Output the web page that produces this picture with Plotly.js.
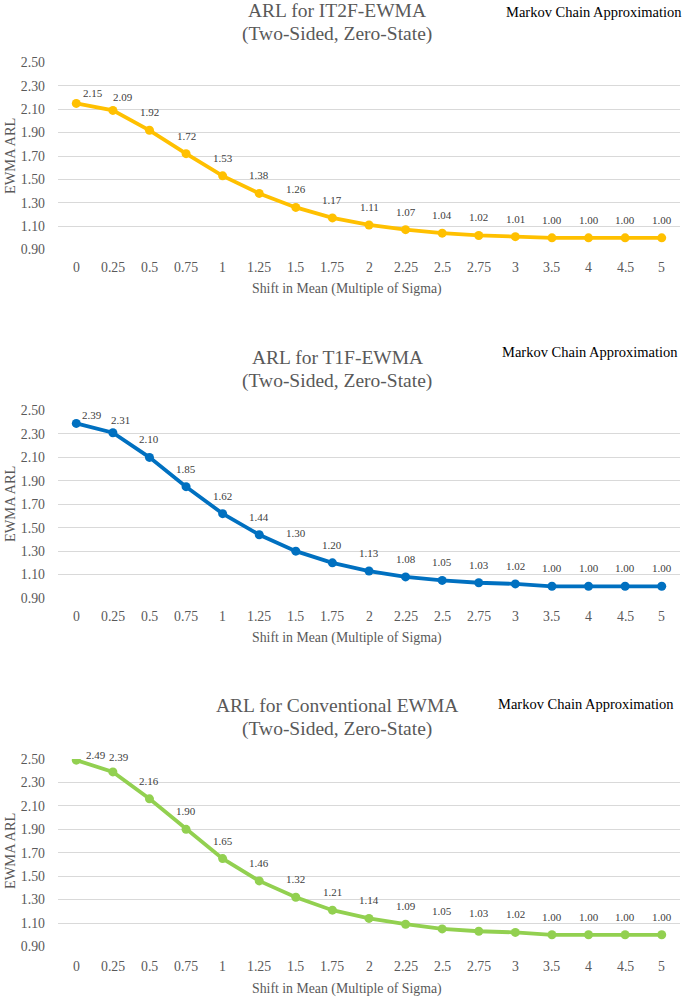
<!DOCTYPE html>
<html>
<head>
<meta charset="utf-8">
<script src="https://cdn.plot.ly/plotly-3.0.1.min.js"></script>
<style>html,body{margin:0;padding:0;background:#fff;}#chart{width:685px;height:1001px;}</style>
</head>
<body>
<div id="chart"></div>
<script>
// ---- data ----
const shifts = ['0','0.25','0.5','0.75','1','1.25','1.5','1.75','2','2.25','2.5','2.75','3','3.5','4','4.5','5'];
const arlIT2F = [2.15,2.09,1.92,1.72,1.53,1.38,1.26,1.17,1.11,1.07,1.04,1.02,1.01,1.00,1.00,1.00,1.00];
const arlT1F  = [2.39,2.31,2.10,1.85,1.62,1.44,1.30,1.20,1.13,1.08,1.05,1.03,1.02,1.00,1.00,1.00,1.00];
const arlConv = [2.49,2.39,2.16,1.90,1.65,1.46,1.32,1.21,1.14,1.09,1.05,1.03,1.02,1.00,1.00,1.00,1.00];
const yTickVals = [0.9,1.1,1.3,1.5,1.7,1.9,2.1,2.3,2.5];
const yTickText = ['0.90','1.10','1.30','1.50','1.70','1.90','2.10','2.30','2.50'];
const chartTitles = ['ARL for IT2F-EWMA','ARL for T1F-EWMA','ARL for Conventional EWMA'];
const subTitle = '(Two-Sided, Zero-State)';
const noteText = 'Markov Chain Approximation';
const xTitle = 'Shift in Mean (Multiple of Sigma)';
const yTitle = 'EWMA ARL';

// ---- style ----
const W = 685, H = 1001, ML = 58, MR = 5;
const PW = W - ML - MR;
const FONT = 'Liberation Serif, Times New Roman, serif';
const GRAY = '#595959';
const colors = ['#FFC000', '#0070C0', '#92D050'];
const series = [arlIT2F, arlT1F, arlConv];
const panels = [
  {top: 62.5, bottom: 249.5, t1Y: 11, t2Y: 34, noteX: 683.5, noteY: 12, tickY: 267.5, xtY: 289, yTitleY: 156},
  {top: 410.5, bottom: 598, t1Y: 357, t2Y: 381, noteX: 679.5, noteY: 352, tickY: 616.5, xtY: 638, yTitleY: 504},
  {top: 759, bottom: 946.5, t1Y: 705, t2Y: 729, noteX: 676, noteY: 704, tickY: 966.5, xtY: 989, yTitleY: 851}
];
const firstOffsets = [
  [[17, 10], [10, 13]],
  [[16, 8], [8, 13]],
  [[20, 5], [6, 15]]
];

const px = x => (x - ML) / PW;
const py = y => 1 - y / H;

const data = [];
const layout = {
  width: W, height: H,
  margin: {l: ML, r: MR, t: 0, b: 0, pad: 0},
  paper_bgcolor: '#fff', plot_bgcolor: '#fff',
  showlegend: false,
  font: {family: FONT, color: GRAY},
  annotations: []
};

function addText(x, y, text, size, color, extra) {
  layout.annotations.push(Object.assign({
    xref: 'paper', yref: 'paper', x: px(x), y: py(y), text: text,
    showarrow: false, xanchor: 'center', yanchor: 'middle',
    font: {family: FONT, size: size, color: color}
  }, extra || {}));
}

panels.forEach((p, i) => {
  const n = i === 0 ? '' : String(i + 1);
  data.push({
    type: 'scatter', mode: 'lines+markers',
    x: shifts, y: series[i],
    xaxis: 'x' + n, yaxis: 'y' + n,
    line: {color: colors[i], width: 3.8},
    marker: {color: colors[i], size: 9},
    hoverinfo: 'skip'
  });
  layout['xaxis' + n] = {
    type: 'category', domain: [0, 1], anchor: 'y' + n,
    range: [-0.5, shifts.length - 0.5],
    showgrid: false, zeroline: false, showline: false, ticks: '',
    fixedrange: true, automargin: false, showticklabels: false
  };
  layout['yaxis' + n] = {
    domain: [py(p.bottom), py(p.top)], anchor: 'x' + n,
    range: [0.9, 2.5],
    tickvals: yTickVals, ticktext: yTickText,
    showgrid: true, gridcolor: '#D9D9D9', gridwidth: 1,
    zeroline: false, showline: false, ticks: '',
    tickfont: {family: FONT, size: 13.8, color: GRAY},
    ticklabelstandoff: 12,
    fixedrange: true, automargin: false
  };
  // x tick labels at category positions (index on category axis)
  shifts.forEach((s, k) => {
    layout.annotations.push({
      xref: 'x' + n, yref: 'paper', x: k, y: py(p.tickY),
      text: s, showarrow: false, xanchor: 'center', yanchor: 'middle',
      font: {family: FONT, size: 13.8, color: GRAY}
    });
  });
  // data labels
  series[i].forEach((v, k) => {
    let xs = 0, ys = 18;
    if (k < 2) { xs = firstOffsets[i][k][0]; ys = firstOffsets[i][k][1]; }
    layout.annotations.push({
      xref: 'x' + n, yref: 'y' + n, x: k, y: v,
      text: v.toFixed(2), showarrow: false,
      xanchor: 'center', yanchor: 'middle', xshift: xs, yshift: ys,
      font: {family: FONT, size: 11, color: '#404040'}
    });
  });
  addText(337, p.t1Y, chartTitles[i], 19.5, GRAY);
  addText(337, p.t2Y, subTitle, 19.5, GRAY);
  addText(p.noteX, p.noteY, noteText, 14.5, '#000', {xanchor: 'right'});
  addText(347, p.xtY, xTitle, 13.8, GRAY);
  addText(10, p.yTitleY, yTitle, 14.4, GRAY, {textangle: -90});
});

Plotly.newPlot('chart', data, layout, {staticPlot: true, displayModeBar: false});
</script>
</body>
</html>
